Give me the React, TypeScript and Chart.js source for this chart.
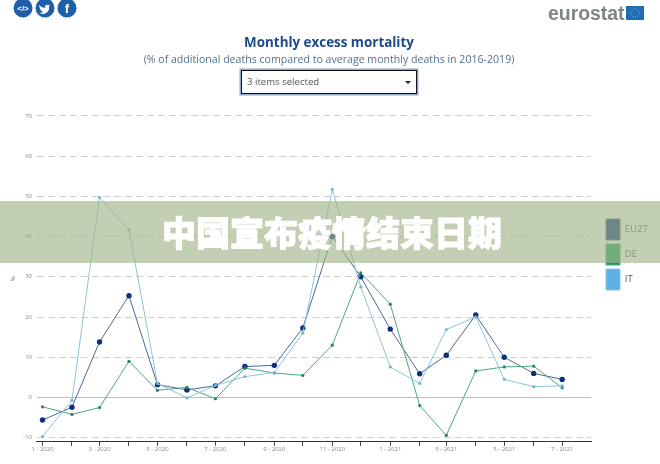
import React, { useEffect, useRef } from "react";
import { Chart, registerables } from "chart.js";

Chart.register(...registerables);

const monthLabels = ["1 - 2020", "", "3 - 2020", "", "5 - 2020", "", "7 - 2020", "", "9 - 2020", "", "11 - 2020", "", "1 - 2021", "", "3 - 2021", "", "5 - 2021", "", "7 - 2021"];
const dayOffsets = [0, 31, 60, 91, 121, 152, 182, 213, 244, 274, 305, 335, 366, 397, 425, 456, 486, 517, 547];
const eu27 = [-5.6, -2.4, 13.8, 25.3, 3.2, 1.9, 2.9, 7.7, 8.0, 17.3, 40, 30, 17.0, 5.9, 10.5, 20.5, 10, 6, 4.5];
const de = [-2.3, -4.2, -2.5, 9.0, 1.8, 2.5, -0.3, 7.3, 6.1, 5.5, 13, 31, 23.2, -2, -9.4, 6.6, 7.6, 7.8, 2.4];
const it = [-9.7, -0.7, 49.7, 41.7, 3.5, -0.1, 3, 5.2, 6.2, 16, 51.7, 27.5, 7.6, 3.5, 16.9, 20, 4.5, 2.7, 2.9];
const yTicks = [-10, 0, 10, 20, 30, 40, 50, 60, 70];

const toPoints = (values: number[]) => values.map((y, i) => ({ x: dayOffsets[i], y }));

const placeBoxes = {
  id: "placeBoxes",
  afterLayout(chart: any) {
    const legend = chart.legend;
    const w = legend.right - legend.left;
    legend.left = 602;
    legend.right = 602 + w;
    legend.top = 215;
    legend.bottom = 300;
    chart.boxes.forEach((box: any) => {
      if (box.options && typeof box.options.text === "string") {
        box.left = 0;
        box.right = 658;
      }
    });
  },
};

export default function App() {
  const ref = useRef<HTMLCanvasElement | null>(null);

  useEffect(() => {
    const chart = new Chart(ref.current!, {
      type: "line",
      plugins: [placeBoxes],
      data: {
        datasets: [
          { label: "EU27", data: toPoints(eu27), borderColor: "#4a6a94", backgroundColor: "#0c2f7e", pointBackgroundColor: "#0c2f7e", pointBorderWidth: 0, pointRadius: 2.7, borderWidth: 1, tension: 0, order: 3 },
          { label: "DE", data: toPoints(de), borderColor: "#4fa584", backgroundColor: "#149a62", pointBackgroundColor: "#1a8a60", pointBorderWidth: 0, pointRadius: 1.6, borderWidth: 1, tension: 0, order: 2 },
          { label: "IT", data: toPoints(it), borderColor: "#8cc3de", backgroundColor: "#5cb0e4", pointBackgroundColor: "#78b4d0", pointBorderWidth: 0, pointRadius: 1.6, borderWidth: 1, tension: 0, order: 1 },
        ],
      },
      options: {
        responsive: false,
        animation: false,
        layout: { padding: { left: 10, right: 13, top: 35, bottom: 11 } },
        plugins: {
          title: {
            display: true,
            text: "Monthly excess mortality",
            color: "#1d4a8a",
            font: { family: "'Open Sans'", size: 13.4, weight: "bold" },
            padding: { top: 0, bottom: 3 },
          },
          subtitle: {
            display: true,
            text: "(% of additional deaths compared to average monthly deaths in 2016-2019)",
            color: "#54708f",
            font: { family: "'Open Sans'", size: 10.6 },
            padding: { top: 0, bottom: 49 },
          },
          legend: {
            display: true,
            position: "right",
            align: "start",
            labels: {
              boxWidth: 14,
              boxHeight: 21,
              padding: 4,
              color: "#555",
              font: { family: "'Open Sans'", size: 9.5 },
              sort: (a: any, b: any) => a.datasetIndex - b.datasetIndex,
            },
          },
          tooltip: { enabled: false },
        },
        scales: {
          x: {
            type: "linear",
            min: -5.8,
            max: 577.5,
            afterBuildTicks: (axis: any) => {
              axis.ticks = dayOffsets.map((value) => ({ value }));
            },
            ticks: {
              autoSkip: false,
              maxRotation: 0,
              color: "#888",
              padding: 0,
              font: { family: "'Open Sans'", size: 6 },
              callback: (_v: any, i: number) => monthLabels[i],
            },
            grid: { drawOnChartArea: false, drawTicks: true, tickLength: 4, tickColor: "#444" },
            border: { display: true, color: "#333", width: 1 },
          },
          y: {
            min: -11,
            max: 70,
            afterBuildTicks: (axis: any) => {
              axis.ticks = yTicks.map((value) => ({ value }));
            },
            title: { display: true, text: "%", color: "#777", font: { family: "'Open Sans'", size: 6 }, padding: { top: 0, bottom: 1 } },
            ticks: { color: "#888", padding: 5, font: { family: "'Open Sans'", size: 6 } },
            grid: {
              drawTicks: false,
              color: (ctx: any) => (ctx.tick && ctx.tick.value === 0 ? "#bdbdbd" : "#cfcfcf"),
              lineWidth: 1,
            },
            border: {
              display: false,
              dash: (ctx: any) => (ctx.tick && ctx.tick.value === 0 ? [] : [7, 4]),
            },
          },
        },
      } as any,
    });
    return () => chart.destroy();
  }, []);

  return (
    <div style={{ position: "absolute", left: 0, top: 0, width: 660, height: 464, background: "#fff", overflow: "hidden", fontFamily: "'Open Sans'" }}>
      <canvas ref={ref} width={660} height={464} style={{ position: "absolute", left: 0, top: 0, display: "block" }} />

      <svg width={80} height={20} style={{ position: "absolute", left: 9, top: 0 }}>
        {[14, 36, 58].map((cx) => (
          <circle key={cx} cx={cx} cy={8} r={9.5} fill="#1f5ea8" />
        ))}
        <text x={14} y={11} fill="#fff" fontSize={8} fontWeight="bold" textAnchor="middle" fontFamily="Liberation Sans">{"</>"}</text>
        <path d="M30 5 q3 3 6 3 q0-4 3-3 l2 0 l-1 1 q1 6-5 8 q-3 0-5-1 q3 0 4-1 q-3-1-4-7z" fill="#fff" />
        <text x={58} y={13} fill="#fff" fontSize={13} fontWeight="bold" textAnchor="middle" fontFamily="Liberation Sans">f</text>
      </svg>

      <div style={{ position: "absolute", left: 548, top: 1, fontFamily: "'Liberation Sans'", fontWeight: "bold", fontSize: 19.4, color: "#7f8487", lineHeight: "24px" }}>eurostat</div>
      <svg width={18} height={14} style={{ position: "absolute", left: 626, top: 6 }}>
        <rect width={18} height={14} fill="#1f6eb5" />
        <circle cx={9} cy={7} r={4} fill="none" stroke="#8fb8d8" strokeWidth={1} strokeDasharray="1 1.5" />
      </svg>

      <div style={{ position: "absolute", left: 241, top: 70, width: 174, height: 22, border: "1px solid #111", boxShadow: "0 0 0 1.5px #8fa9cc", background: "#fff", fontSize: 9.6, color: "#555", lineHeight: "22px", textIndent: 5 }}>
        3 items selected
        <span style={{ position: "absolute", right: 5, top: 10, width: 0, height: 0, borderLeft: "3px solid transparent", borderRight: "3px solid transparent", borderTop: "3px solid #222" }} />
      </div>

      <div style={{ position: "absolute", left: 0, top: 201, width: 660, height: 62, background: "rgba(163,181,137,0.65)" }} />
      <div style={{ position: "absolute", left: 0, top: 201, width: 664, height: 62, lineHeight: "62px", textAlign: "center", color: "#fff", fontFamily: "'Noto Sans CJK SC'", fontWeight: 900, fontSize: 34, WebkitTextStroke: "1px #fff" }}>
        中国宣布疫情结束日期
      </div>
    </div>
  );
}
